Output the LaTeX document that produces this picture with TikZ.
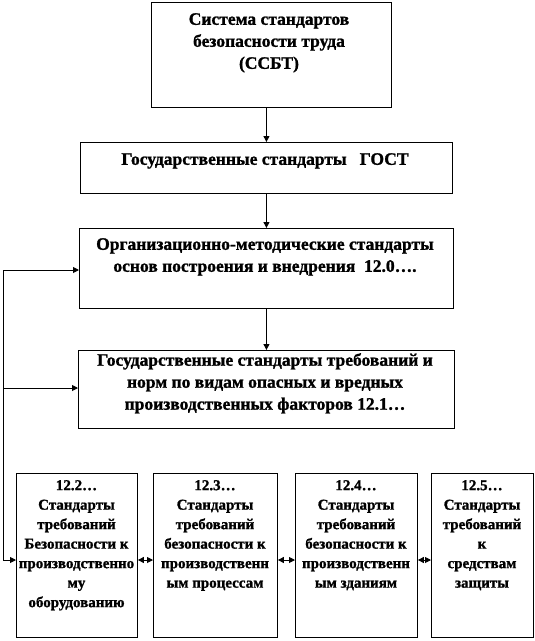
\documentclass[tikz,border=0pt]{standalone}
\usepackage{fontspec}
\setmainfont{Liberation Serif}[BoldFeatures={FakeBold=1.2}]
\usetikzlibrary{arrows.meta}
\begin{document}
\begin{tikzpicture}[x=1pt,y=-1pt,
  box/.style={draw, line width=0.9pt, inner sep=0pt, anchor=north west},
  bigtxt/.style={anchor=north, align=center, inner sep=0pt, font=\fontsize{17.5}{22}\selectfont\bfseries},
  smalltxt/.style={anchor=north, align=center, inner sep=0pt, font=\fontsize{15}{19.5}\selectfont\bfseries},
  arr/.style={-{Triangle[length=6pt,width=6pt]}, line width=0.9pt},
  darr/.style={{Triangle[length=6pt,width=6pt]}-{Triangle[length=6pt,width=6pt]}, line width=0.9pt},
  wire/.style={line width=0.9pt}]
\useasboundingbox (0,0) rectangle (535,641);
% boxes
\node[box, minimum width=240pt, minimum height=105pt] (b1) at (151,2) {};
\node[box, minimum width=372pt, minimum height=51pt] (b2) at (80,142) {};
\node[box, minimum width=374pt, minimum height=80pt] (b3) at (79,228) {};
\node[box, minimum width=376pt, minimum height=78pt] (b4) at (78,350) {};
\node[box, minimum width=121pt, minimum height=164pt] (bA) at (16,473) {};
\node[box, minimum width=124pt, minimum height=164pt] (bB) at (153,473) {};
\node[box, minimum width=122pt, minimum height=164pt] (bC) at (295,473) {};
\node[box, minimum width=102pt, minimum height=164pt] (bD) at (431,473) {};
% texts
\node[bigtxt] (t1) at (269,13) {Система стандартов\\безопасности труда\\(ССБТ)};
\node[bigtxt] (t2) at (265,153) {Государственные стандарты\ \ \ ГОСТ};
\node[bigtxt] (t3) at (265,238) {Организационно-методические стандарты\\основ построения и внедрения\ \ 12.0….};
\node[bigtxt] (t4) at (265,353) {Государственные стандарты требований и\\норм по видам опасных и вредных\\производственных факторов 12.1…};
\node[smalltxt] (tA) at (76.5,480) {12.2…\\Стандарты\\требований\\Безопасности к\\производственно\\му\\оборудованию};
\node[smalltxt] (tB) at (215,480) {12.3…\\Стандарты\\требований\\безопасности к\\производственн\\ым процессам};
\node[smalltxt] (tC) at (356,480) {12.4…\\Стандарты\\требований\\безопасности к\\производственн\\ым зданиям};
\node[smalltxt] (tD) at (482,480) {12.5…\\Стандарты\\требований\\к\\средствам\\защиты};
% connectors
\draw[arr] (b1.south -| b2.north) -- (b2.north);
\draw[arr] (b2.south) -- (b2.south |- b3.north);
\draw[arr] (b3.south) -- (b3.south |- b4.north);
\coordinate (L1) at (3,270);
\coordinate (L2) at (3,388);
\coordinate (L3) at (3,560);
\draw[wire] (L1) -- (L3);
\draw[arr] (L1) -- (L1 -| b3.west);
\draw[arr] (L2) -- (L2 -| b4.west);
\draw[arr] (L3) -- (L3 -| bA.west);
\draw[darr] (L3 -| bA.east) -- (L3 -| bB.west);
\draw[darr] (L3 -| bB.east) -- (L3 -| bC.west);
\draw[darr] (L3 -| bC.east) -- (L3 -| bD.west);
\end{tikzpicture}
\end{document}
